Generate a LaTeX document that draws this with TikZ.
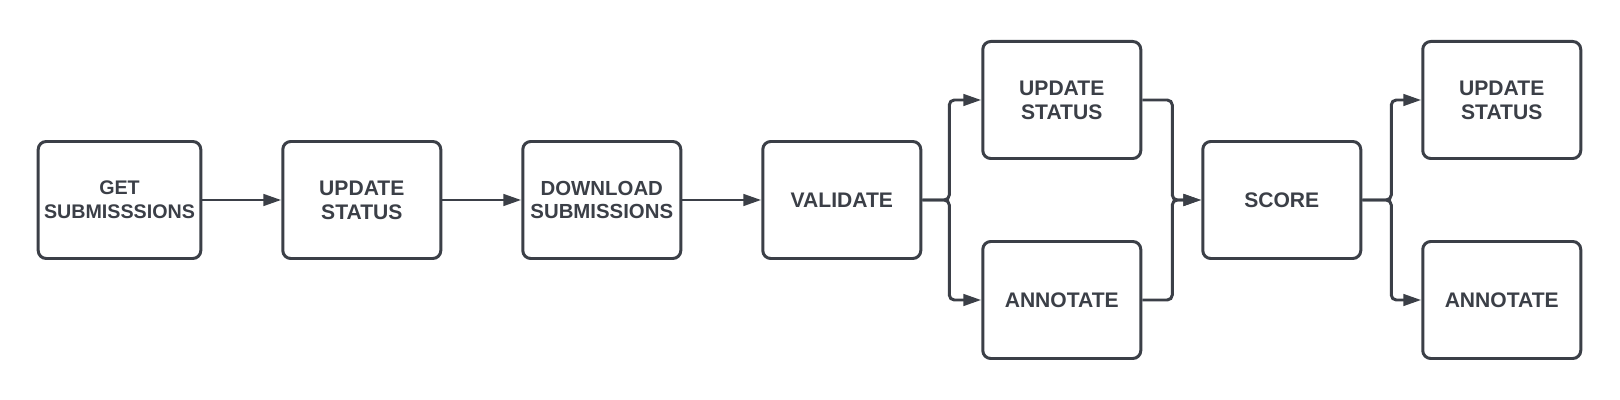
\documentclass[tikz,border=0pt]{standalone}
\usepackage{fontspec}
\setmainfont{Liberation Sans}
\usepackage{tikz}
\usetikzlibrary{arrows.meta, positioning}

\definecolor{inkgray}{HTML}{3B3F47}

\begin{document}
\begin{tikzpicture}[
    stage/.style={draw=inkgray, line width=1.7pt, rounded corners=1.6mm, minimum width=3.16cm, minimum height=2.34cm,
                  align=center, text=inkgray, font=\fontsize{12}{13.6}\selectfont\bfseries},
    flow/.style={draw=inkgray, line width=1.7pt, rounded corners=1mm, -{Triangle[length=3.6mm, width=2.3mm]}}]
            \useasboundingbox (0,0) rectangle (32.4,8);
            \node[stage, font=\fontsize{11.2}{13.4}\selectfont\bfseries] (get) at (2.39,4) {GET\\SUBMISSSIONS};
            
            \node[stage] (upd1) [right = 1.58cm of get] {UPDATE\\STATUS};
            \node[stage, font=\fontsize{11.6}{13.4}\selectfont\bfseries] (down) [right = 1.58cm of upd1] {DOWNLOAD\\SUBMISSIONS};
            \node[stage] (val) [right = 1.58cm of down] {VALIDATE};
            \node[stage] (upd2) [right = 1.18cm of val, yshift = 2cm] {UPDATE\\STATUS};
            \node[stage] (ann2) [right = 1.18cm of val, yshift = -2cm] {ANNOTATE};
            \node[stage] (score) [right = 1.18cm of upd2, yshift = -2cm] {SCORE};
            \node[stage] (upd3) [right = 1.18cm of score, yshift = 2cm] {UPDATE\\STATUS};
            \node[stage] (ann3) [right = 1.18cm of score, yshift = -2cm] {ANNOTATE};
            
            % fork and merge points
            \coordinate (fork1) at ([xshift=0.54cm]val.east);
            \coordinate (merge) at ([xshift=-0.58cm]score.west);
            \coordinate (fork2) at ([xshift=0.58cm]score.east);
            
            \path[flow] (get) -- (upd1);
            \path[flow] (upd1) -- (down);
            \path[flow] (down) -- (val);
            \path[flow] (val.east) -- (fork1) |- (upd2.west);
            \path[flow] (val.east) -- (fork1) |- (ann2.west);
            \path[flow] (upd2.east) -| (merge) -- (score.west);
            \path[flow] (ann2.east) -| (merge) -- (score.west);
            \path[flow] (score.east) -- (fork2) |- (upd3.west);
            \path[flow] (score.east) -- (fork2) |- (ann3.west);
        \end{tikzpicture}
\end{document}
